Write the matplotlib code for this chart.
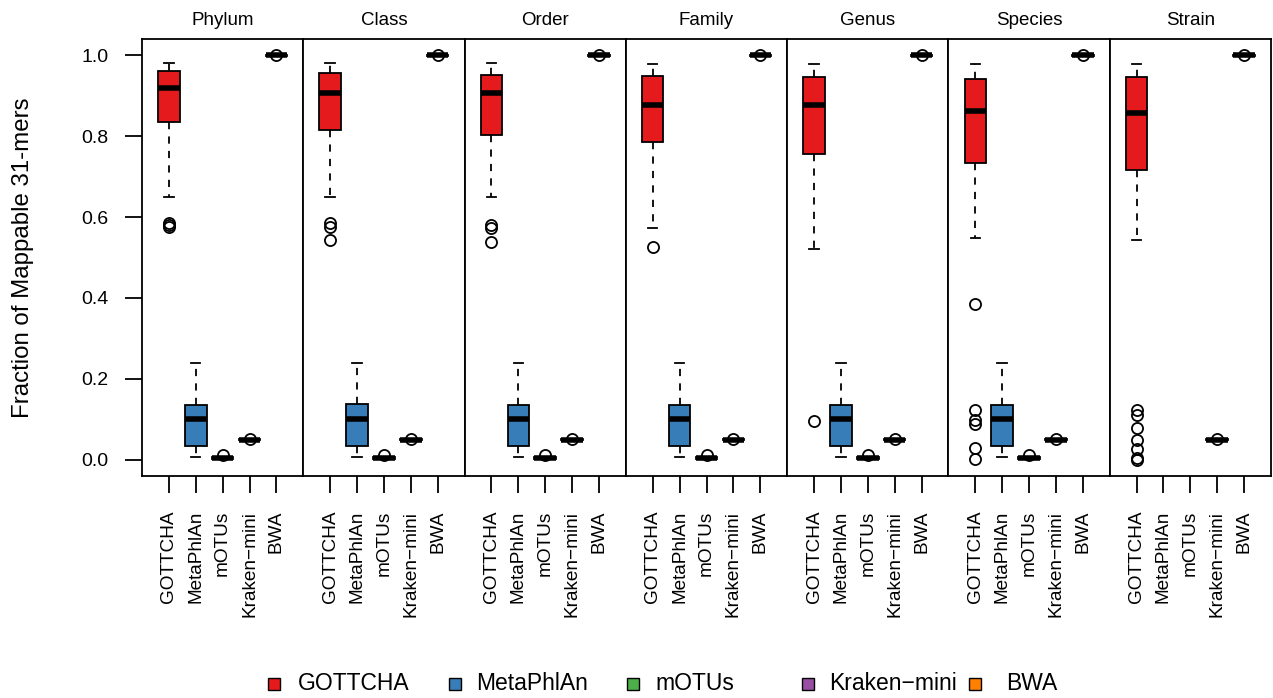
import matplotlib
matplotlib.use("Agg")
import matplotlib.pyplot as plt
from matplotlib.patches import Rectangle

plt.rcParams['font.family'] = ['Liberation Sans', 'DejaVu Sans']

ranks = ["Phylum", "Class", "Order", "Family", "Genus", "Species", "Strain"]
methods = ["GOTTCHA", "MetaPhlAn", "mOTUs", "Kraken\u2212mini", "BWA"]
colors = ["#E41A1C", "#377EB8", "#4DAF4A", "#984EA3", "#FF7F00"]

# GOTTCHA per rank
gottcha_whislo = [0.649, 0.649, 0.649, 0.572, 0.521, 0.547, 0.543]
gottcha_q1 = [0.835, 0.815, 0.802, 0.785, 0.755, 0.734, 0.716]
gottcha_med = [0.919, 0.907, 0.907, 0.877, 0.877, 0.862, 0.856]
gottcha_q3 = [0.960, 0.955, 0.952, 0.949, 0.945, 0.940, 0.945]
gottcha_whishi = [0.981, 0.981, 0.981, 0.979, 0.979, 0.979, 0.979]
gottcha_fliers = [
    [0.586, 0.580, 0.575],
    [0.586, 0.576, 0.543],
    [0.580, 0.574, 0.539],
    [0.527],
    [0.095],
    [0.384, 0.123, 0.099, 0.089, 0.029, 0.002],
    [0.123, 0.111, 0.078, 0.049, 0.026, 0.004, 0.000],
]

# MetaPhlAn per rank (none at Strain)
metaphlan_whislo = [0.008, 0.008, 0.008, 0.008, 0.008, 0.008, None]
metaphlan_q1 = [0.033, 0.034, 0.033, 0.033, 0.033, 0.033, None]
metaphlan_med = [0.100, 0.102, 0.100, 0.100, 0.100, 0.100, None]
metaphlan_q3 = [0.136, 0.138, 0.136, 0.136, 0.136, 0.136, None]
metaphlan_whishi = [0.239, 0.239, 0.239, 0.239, 0.239, 0.239, None]

# mOTUs per rank (none at Strain)
motus_whislo = [0.001, 0.001, 0.001, 0.001, 0.001, 0.001, None]
motus_q1 = [0.002, 0.002, 0.002, 0.002, 0.002, 0.002, None]
motus_med = [0.004, 0.004, 0.004, 0.004, 0.004, 0.004, None]
motus_q3 = [0.006, 0.006, 0.006, 0.006, 0.006, 0.006, None]
motus_whishi = [0.008, 0.008, 0.008, 0.008, 0.008, 0.008, None]
motus_fliers = [[0.013], [0.013], [0.013], [0.013], [0.013], [0.013], None]

# Kraken-mini per rank
kraken_whislo = [0.048] * 7
kraken_q1 = [0.049] * 7
kraken_med = [0.050] * 7
kraken_q3 = [0.051] * 7
kraken_whishi = [0.052] * 7
kraken_fliers = [[0.051]] * 7

# BWA per rank
bwa_whislo = [0.998] * 7
bwa_q1 = [0.999] * 7
bwa_med = [1.000] * 7
bwa_q3 = [1.000] * 7
bwa_whishi = [1.000] * 7
bwa_fliers = [[1.000]] * 7

yticks = [0.0, 0.2, 0.4, 0.6, 0.8, 1.0]
ylabel = "Fraction of Mappable 31-mers"

W, H = 1273, 698
fig = plt.figure(figsize=(W / 100, H / 100), dpi=100)
left, right, top, bottom = 142 / W, 1271 / W, 1 - 39 / H, 1 - 476 / H
pw = (right - left) / len(ranks)


def stat(lo, q1, med, q3, hi, fl):
    return dict(whislo=lo, q1=q1, med=med, q3=q3, whishi=hi, fliers=fl or [])


for i, rank in enumerate(ranks):
    ax = fig.add_axes([left + i * pw, bottom, pw, top - bottom])
    series = [
        (gottcha_whislo, gottcha_q1, gottcha_med, gottcha_q3, gottcha_whishi, gottcha_fliers),
        (metaphlan_whislo, metaphlan_q1, metaphlan_med, metaphlan_q3, metaphlan_whishi, [[]] * 7),
        (motus_whislo, motus_q1, motus_med, motus_q3, motus_whishi, motus_fliers),
        (kraken_whislo, kraken_q1, kraken_med, kraken_q3, kraken_whishi, kraken_fliers),
        (bwa_whislo, bwa_q1, bwa_med, bwa_q3, bwa_whishi, bwa_fliers),
    ]
    for j, s in enumerate(series):
        if s[2][i] is None:
            continue
        st = stat(s[0][i], s[1][i], s[2][i], s[3][i], s[4][i], s[5][i])
        ax.bxp([st], positions=[j + 1], widths=0.8, patch_artist=True,
               boxprops=dict(facecolor=colors[j], edgecolor="black", linewidth=1.3),
               medianprops=dict(color="black", linewidth=4, solid_capstyle="butt"),
               whiskerprops=dict(color="black", linewidth=1.3, linestyle=(0, (4, 4))),
               capprops=dict(color="black", linewidth=1.3),
               capwidths=0.35,
               flierprops=dict(marker="o", markerfacecolor="none", markeredgecolor="black",
                               markersize=8, markeredgewidth=1.3),
               manage_ticks=False)
    ax.set_xlim(0, 6)
    ax.set_ylim(-0.04, 1.04)
    ax.set_xticks(range(1, 6))
    ax.set_xticklabels(methods, rotation=90, fontsize=13.7)
    ax.tick_params(axis="x", length=12, width=1.3, pad=13)
    ax.set_title(rank, fontsize=13.5, pad=10)
    for sp in ax.spines.values():
        sp.set_linewidth(1.3)
    if i == 0:
        ax.set_yticks(yticks)
        ax.set_yticklabels([f"{v:.1f}" for v in yticks], fontsize=14)
        ax.tick_params(axis="y", length=12, width=1.3, pad=12)
    else:
        ax.set_yticks([])

fig.text(23 / W, (bottom + top) / 2, ylabel, rotation=90, ha="center", va="center", fontsize=17.3)

# legend
sq_x = [274, 455, 633, 808, 975]
tx_x = [298, 476, 655, 829, 1006]
ly = 1 - 684 / H
s = 12
for cx, txx, c, m in zip(sq_x, tx_x, colors, methods):
    fig.add_artist(Rectangle(((cx - s / 2) / W, ly - (s / 2) / H), s / W, s / H,
                             facecolor=c, edgecolor="black", linewidth=1.0,
                             transform=fig.transFigure))
    fig.text(txx / W, ly, m, ha="left", va="center", fontsize=16.5)

fig.savefig("out.png", dpi=100)
